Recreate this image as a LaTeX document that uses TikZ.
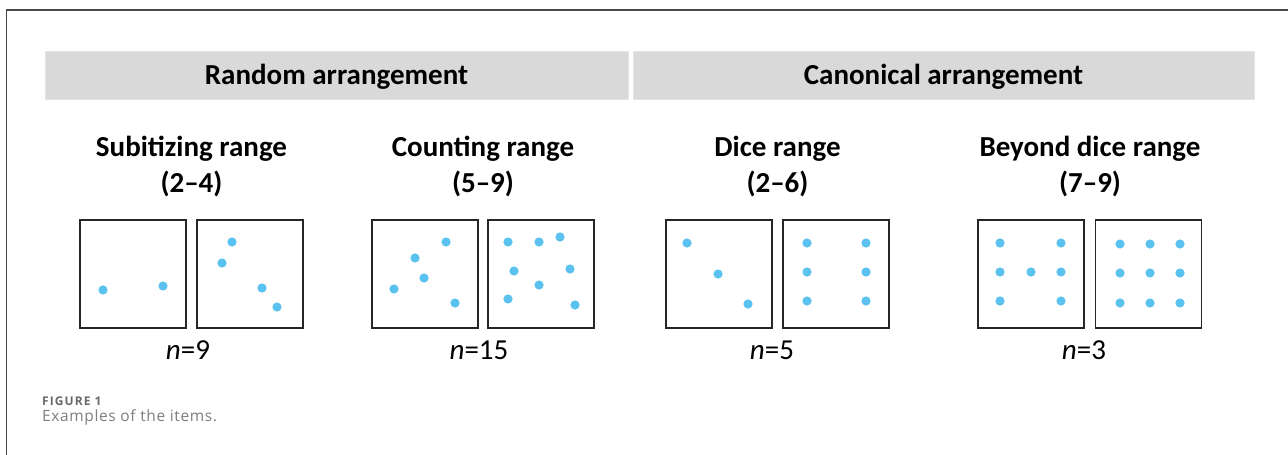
\documentclass[tikz,border=0pt]{standalone}
\usepackage{fontspec}
\setmainfont{Carlito}
\newfontfamily\capfont{Open Sans}
\definecolor{bandgray}{HTML}{D9D9D9}
\definecolor{dotblue}{HTML}{5BC2EF}
\definecolor{framegray}{HTML}{4A4A4A}
\definecolor{capgray}{HTML}{707070}
\definecolor{figgray}{HTML}{6A6A6A}
\tikzset{
  bandbox/.style={fill=bandgray, draw=bandgray!70!white, line width=0.6pt, inner sep=0pt},
  bandtext/.style={anchor=base, inner sep=0pt, font=\bfseries\fontsize{29}{34}\selectfont},
  rangetitle/.style={anchor=base, inner sep=0pt, font=\bfseries\fontsize{29}{34}\selectfont},
  itembox/.style={draw=black!85, line width=1.8pt, minimum width=106pt, minimum height=108pt, inner sep=0pt},
  nlabel/.style={anchor=base, font=\fontsize{29}{34}\selectfont, inner sep=0pt},
  dotfill/.style={fill=dotblue}
}
\begin{document}
\begin{tikzpicture}[x=1pt,y=-1pt]
\useasboundingbox (0,0) rectangle (1288,455);
\fill[white] (0,0) rectangle (1288,455);
\draw[framegray, line width=1.5pt] (6.5,455) -- (6.5,10) -- (1288,10);

% bands
\draw[bandbox] (45,51) rectangle (628,99);
\draw[bandbox] (633,51) rectangle (1254,99);
\node[bandtext] (band1) at (336.5,84) {Random arrangement};
\node[bandtext] (band2) at (943.5,84) {Canonical arrangement};

% titles
\node[rangetitle] (t1a) at (191.5,156) {Subitizing range};
\node[rangetitle] (t1b) at (191.5,192) {(2--4)};
\node[rangetitle] (t2a) at (483,156) {Counting range};
\node[rangetitle] (t2b) at (483,192) {(5--9)};
\node[rangetitle] (t3a) at (777.5,156) {Dice range};
\node[rangetitle] (t3b) at (777.5,192) {(2--6)};
\node[rangetitle] (t4a) at (1090,156) {Beyond dice range};
\node[rangetitle] (t4b) at (1090,192) {(7--9)};

% boxes
\node[itembox] (b1) at (133,274) {};
\node[itembox] (b2) at (250,274) {};
\node[itembox] (b3) at (425,274) {};
\node[itembox] (b4) at (541,274) {};
\node[itembox] (b5) at (719,274) {};
\node[itembox] (b6) at (836,274) {};
\node[itembox] (b7) at (1031,274) {};
\node[itembox] (b8) at (1148.5,274) {};

% dots
\foreach \p in {(103,290),(163,286),
  (232,242),(222,263),(262,288),(277,307),
  (394,289),(415,258),(424,278),(446,242),(455,303),
  (508,242),(539,242),(560,237),(514,271),(570,269),(539,285),(508,299),(575,305),
  (687,243),(718,274),(748,304),
  (807,243),(866,243),(807,272),(866,272),(807,301),(866,301),
  (1000,243),(1061,243),(1000,272),(1031,272),(1061,272),(1000,301),(1061,301),
  (1120,244),(1150,244),(1180,244),(1120,273),(1150,273),(1180,273),(1120,303),(1150,303),(1180,303)}
  \fill[dotfill] \p circle (4.6pt);

% n labels
\node[nlabel] (n1) at (188,359) {\textit{n}=9};
\node[nlabel] (n2) at (479,359) {\textit{n}=15};
\node[nlabel] (n3) at (772,359) {\textit{n}=5};
\node[nlabel] (n4) at (1084,359) {\textit{n}=3};

% caption
\node[anchor=base west, inner sep=0pt, text=figgray, font=\capfont\fontsize{12}{14}\selectfont\bfseries\addfontfeatures{LetterSpace=9}] (fig) at (42,405) {FIGURE 1};
\node[anchor=base west, inner sep=0pt, text=capgray!90!white, font=\capfont\fontsize{15.5}{18}\selectfont\addfontfeatures{LetterSpace=4}] (cap) at (42,421) {Examples of the items.};
\end{tikzpicture}
\end{document}
